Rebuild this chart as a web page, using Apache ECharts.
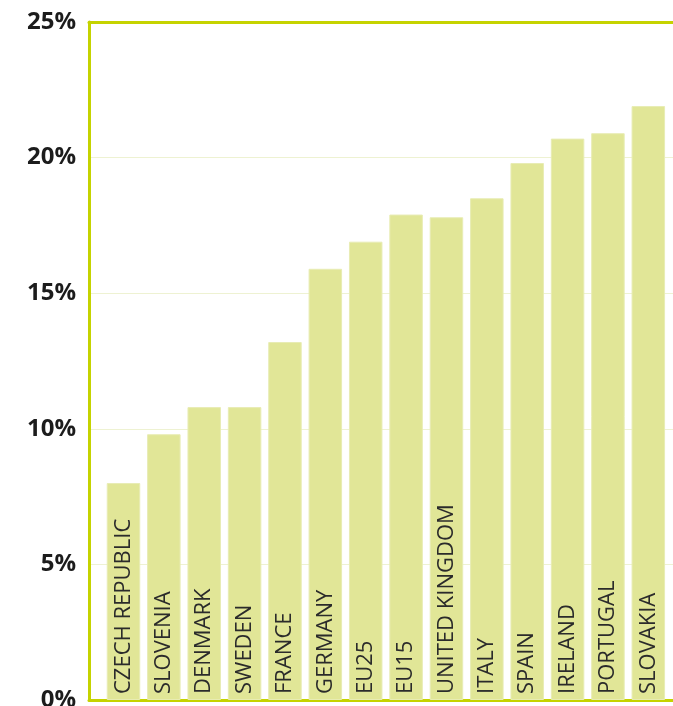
<!DOCTYPE html>
<html>
<head>
<meta charset="utf-8">
<script src="https://cdn.jsdelivr.net/npm/echarts@6/dist/echarts.min.js"></script>
<style>
  html, body { margin: 0; padding: 0; background: #ffffff; overflow: hidden; }
  #chart { width: 673px; height: 706px; }
</style>
</head>
<body>
<div id="chart"></div>
<script>
// Share of population (%) by country
const categories = [
  'CZECH REPUBLIC', 'SLOVENIA', 'DENMARK', 'SWEDEN', 'FRANCE', 'GERMANY',
  'EU25', 'EU15', 'UNITED KINGDOM', 'ITALY', 'SPAIN', 'IRELAND', 'PORTUGAL', 'SLOVAKIA'
];
const values = [8.0, 9.8, 10.8, 10.8, 13.2, 15.9, 16.9, 17.9, 17.8, 18.5, 19.8, 20.7, 20.9, 21.9];
const yTicks = { min: 0, max: 25, interval: 5 };

const frameColor = '#c5d300';
const barColor = '#e1e697';

const chart = echarts.init(document.getElementById('chart'), null, { renderer: 'canvas' });

chart.setOption({
  animation: false,
  backgroundColor: '#ffffff',
  grid: [
    // frame, gridlines and percentage scale (the 0% label may run past the bottom edge)
    { left: 89, right: 0, top: 22, bottom: 6, outerBoundsMode: 'none', containLabel: false },
    // bars
    { left: 103.3, right: 4.5, top: 22, bottom: 6, outerBoundsMode: 'none', containLabel: false }
  ],
  xAxis: [
    {
      gridIndex: 0, type: 'value', min: 0, max: 1, position: 'bottom',
      axisLine: { show: true, lineStyle: { color: frameColor, width: 3 } },
      axisTick: { show: false }, axisLabel: { show: false }, splitLine: { show: false }
    },
    {
      gridIndex: 0, type: 'value', min: 0, max: 1, position: 'top',
      axisLine: { show: true, lineStyle: { color: frameColor, width: 3 } },
      axisTick: { show: false }, axisLabel: { show: false }, splitLine: { show: false }
    },
    {
      gridIndex: 1, type: 'category', data: categories, show: false
    }
  ],
  yAxis: [
    {
      gridIndex: 0, type: 'value',
      min: yTicks.min, max: yTicks.max, interval: yTicks.interval,
      axisLine: { show: true, lineStyle: { color: frameColor, width: 3 } },
      axisTick: { show: false },
      axisLabel: {
        formatter: '{value}%',
        margin: 13,
        color: '#1c1c1c',
        fontFamily: 'Open Sans',
        fontWeight: 'bold',
        fontSize: 24
      },
      splitLine: { show: true, lineStyle: { color: '#eef2d2', width: 1 } }
    },
    {
      gridIndex: 1, type: 'value',
      min: yTicks.min, max: yTicks.max, show: false
    }
  ],
  series: [
    {
      type: 'bar',
      xAxisIndex: 2,
      yAxisIndex: 1,
      data: values,
      barWidth: 33.5,
      itemStyle: { color: barColor, borderColor: '#e8ecb4', borderWidth: 1 },
      label: {
        show: true,
        position: 'insideBottom',
        rotate: 90,
        align: 'left',
        verticalAlign: 'middle',
        distance: 6,
        formatter: (p) => p.name,
        color: '#2b2b2b',
        fontFamily: 'Open Sans',
        fontSize: 22
      }
    }
  ]
});
</script>
</body>
</html>
